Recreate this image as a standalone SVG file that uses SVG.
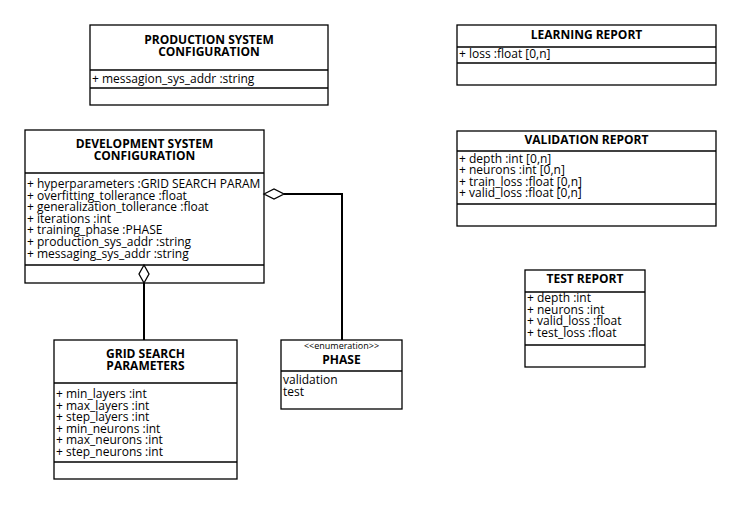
<svg xmlns="http://www.w3.org/2000/svg" width="740" height="505" viewBox="0 0 740 505">
<style>
.box{fill:#fff;stroke:#000;stroke-width:1.3}
.sep{stroke:#000;stroke-width:1.3;fill:none}
.t{font-family:"Open Sans","Noto Sans",sans-serif;font-size:12px;font-weight:bold;text-anchor:middle;fill:#000}
.a{font-family:"Open Sans","Noto Sans",sans-serif;font-size:12px;fill:#000}
.st{font-family:"Open Sans","Noto Sans",sans-serif;font-size:9px;text-anchor:middle;fill:#000}
.c{stroke:#000;stroke-width:2;fill:none}
.d{stroke:#000;stroke-width:1.3;fill:#fff}
</style>
<rect width="740" height="505" fill="#fff"/>
<g id="production">
<rect class="box" x="90" y="25" width="238" height="80"/>
<line class="sep" x1="90" y1="70" x2="328" y2="70"/>
<line class="sep" x1="90" y1="88" x2="328" y2="88"/>
<text class="t" x="209" y="44">PRODUCTION SYSTEM</text>
<text class="t" x="209" y="56">CONFIGURATION</text>
<text class="a" x="92" y="83">+ messagion_sys_addr :string</text>
</g>
<g id="development">
<rect class="box" x="25" y="130" width="239" height="153"/>
<line class="sep" x1="25" y1="173" x2="264" y2="173"/>
<line class="sep" x1="25" y1="265" x2="264" y2="265"/>
<text class="t" x="144.5" y="148">DEVELOPMENT SYSTEM</text>
<text class="t" x="144.5" y="160">CONFIGURATION</text>
<text class="a" x="27" y="188">+ hyperparameters :GRID SEARCH PARAM</text>
<text class="a" x="27" y="199.6">+ overfitting_tollerance :float</text>
<text class="a" x="27" y="211.2">+ generalization_tollerance :float</text>
<text class="a" x="27" y="222.8">+ iterations :int</text>
<text class="a" x="27" y="234.4">+ training_phase :PHASE</text>
<text class="a" x="27" y="246">+ production_sys_addr :string</text>
<text class="a" x="27" y="257.6">+ messaging_sys_addr :string</text>
</g>
<g id="grid">
<rect class="box" x="54" y="340" width="183" height="139"/>
<line class="sep" x1="54" y1="383" x2="237" y2="383"/>
<line class="sep" x1="54" y1="462" x2="237" y2="462"/>
<text class="t" x="145.5" y="358">GRID SEARCH</text>
<text class="t" x="145.5" y="370">PARAMETERS</text>
<text class="a" x="56" y="398">+ min_layers :int</text>
<text class="a" x="56" y="409.5">+ max_layers :int</text>
<text class="a" x="56" y="421">+ step_layers :int</text>
<text class="a" x="56" y="432.5">+ min_neurons :int</text>
<text class="a" x="56" y="444">+ max_neurons :int</text>
<text class="a" x="56" y="455.5">+ step_neurons :int</text>
</g>
<g id="phase">
<rect class="box" x="281" y="340" width="121" height="69"/>
<line class="sep" x1="281" y1="371" x2="402" y2="371"/>
<text class="st" x="341.5" y="349">&lt;&lt;enumeration&gt;&gt;</text>
<text class="t" x="341.5" y="364">PHASE</text>
<text class="a" x="283" y="384">validation</text>
<text class="a" x="283" y="395.5">test</text>
</g>
<g id="learning">
<rect class="box" x="457" y="25" width="259" height="60"/>
<line class="sep" x1="457" y1="47" x2="716" y2="47"/>
<line class="sep" x1="457" y1="63" x2="716" y2="63"/>
<text class="t" x="586.5" y="39">LEARNING REPORT</text>
<text class="a" x="459" y="58">+ loss :float [0,n]</text>
</g>
<g id="validation">
<rect class="box" x="457" y="131" width="259" height="95"/>
<line class="sep" x1="457" y1="151" x2="716" y2="151"/>
<line class="sep" x1="457" y1="204" x2="716" y2="204"/>
<text class="t" x="586.5" y="144">VALIDATION REPORT</text>
<text class="a" x="459" y="162.5">+ depth :int [0,n]</text>
<text class="a" x="459" y="174">+ neurons :int [0,n]</text>
<text class="a" x="459" y="185.5">+ train_loss :float [0,n]</text>
<text class="a" x="459" y="197">+ valid_loss :float [0,n]</text>
</g>
<g id="test">
<rect class="box" x="525" y="270" width="120" height="97"/>
<line class="sep" x1="525" y1="292" x2="645" y2="292"/>
<line class="sep" x1="525" y1="345" x2="645" y2="345"/>
<text class="t" x="585" y="283">TEST REPORT</text>
<text class="a" x="527" y="302">+ depth :int</text>
<text class="a" x="527" y="313.5">+ neurons :int</text>
<text class="a" x="527" y="325">+ valid_loss :float</text>
<text class="a" x="527" y="336.5">+ test_loss :float</text>
</g>
<g id="connectors">
<polyline class="c" points="284,194 342,194 342,340"/>
<path class="d" d="M264,194 L274,189 L284,194 L274,199 Z"/>
<line class="c" x1="144" y1="283" x2="144" y2="340"/>
<path class="d" d="M144,265 L149,274 L144,283 L139,274 Z"/>
</g>
</svg>
